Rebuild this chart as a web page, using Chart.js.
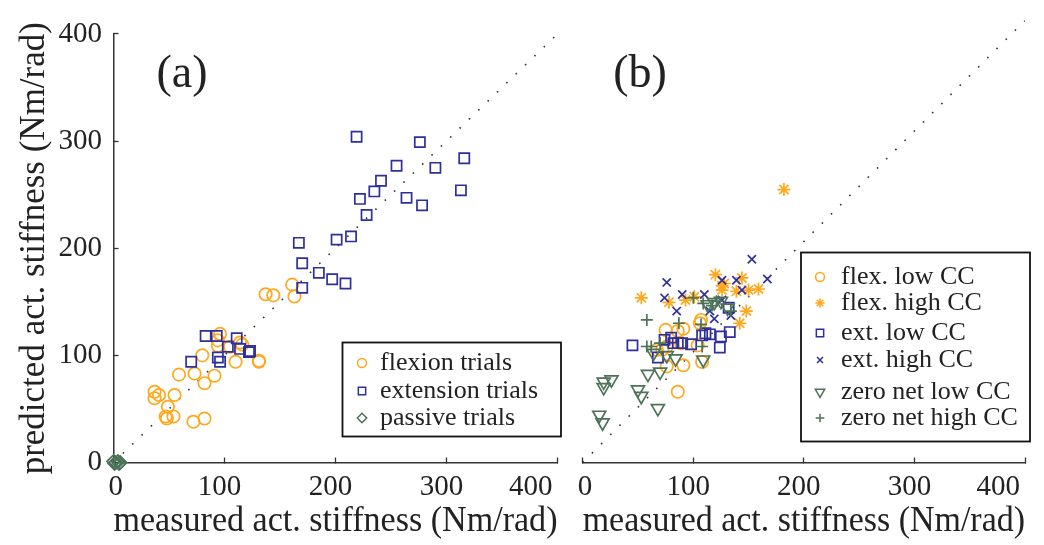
<!DOCTYPE html>
<html>
<head>
<meta charset="utf-8">
<script src="https://cdn.jsdelivr.net/npm/chart.js@4.4.1/dist/chart.umd.min.js"></script>
<style>
  html, body { margin: 0; padding: 0; background: #fff; }
  #wrap { position: relative; width: 1044px; height: 545px; }
  #left { position: absolute; left: 0; top: 0; }
  #right { position: absolute; left: 560px; top: 0; }
</style>
</head>
<body>
<div id="wrap">
  <canvas id="left" width="590" height="545"></canvas>
  <canvas id="right" width="484" height="545"></canvas>
</div>
<script>
// axis ticks shared by both panels
const tickValues = [0, 100, 200, 300, 400];
const diagonal = [0, 400];

// panel (a) : [measured, predicted]
const flexionTrials = [
  [137, 157], [144, 156], [161, 166], [163, 155],
  [96, 120], [94, 114], [94, 109], [105, 108], [114, 112], [116, 110],
  [80, 100], [110, 94], [131, 95], [131, 94],
  [59, 82], [73, 83], [91, 81], [82, 74],
  [37, 66], [41, 63], [37, 60], [55, 63], [49, 52],
  [47, 43], [48, 41], [54, 43], [72, 38], [82, 41]
];
const extensionTrials = [
  [219, 304], [276, 299], [316, 284], [255, 277], [290, 275], [241, 263],
  [235, 253], [222, 246], [313, 254], [264, 247], [278, 240], [228, 231],
  [214, 211], [201, 208], [167, 205], [170, 186], [185, 177], [197, 171],
  [209, 167], [170, 163],
  [83, 118], [93, 118], [111, 116], [70, 94], [94, 98], [96, 94],
  [103, 108], [114, 106], [123, 104], [122, 103]
];
const passiveTrials = [[0, 1], [1, -1], [2, 0], [4, 1], [5, -1], [6, 0]];

// panel (b)
const flexLowCC = [
  [75, 120], [86, 119], [91, 121], [106, 126], [107, 129], [104, 106], [72, 102],
  [76, 105], [91, 88], [108, 91], [76, 87], [86, 64], [67, 102], [89, 108]
];
const flexHighCC = [
  [182, 247], [120, 170], [128, 162], [126, 156], [144, 167], [139, 155], [150, 156],
  [159, 157], [53, 149], [78, 145], [93, 147], [101, 150], [148, 137], [142, 126], [126, 160]
];
const extLowCC = [
  [132, 140], [133, 118], [125, 114], [124, 104], [115, 116], [111, 117], [108, 115],
  [98, 107], [90, 108], [86, 108], [82, 108], [74, 111], [68, 95], [45, 106], [80, 113]
];
const extHighCC = [
  [153, 184], [167, 166], [76, 163], [126, 165], [139, 165], [144, 156], [74, 149],
  [90, 152], [110, 152], [126, 147], [85, 137], [115, 137], [119, 130], [134, 133]
];
const zeroNetLowCC = [
  [19, 73], [26, 75], [19, 68], [59, 80], [70, 82], [50, 66], [53, 60], [68, 49],
  [15, 43], [18, 36], [84, 94], [109, 93], [76, 97], [64, 99],
  [113, 143], [119, 145], [125, 146], [131, 140]
];
const zeroNetHighCC = [
  [58, 129], [87, 126], [107, 125], [108, 105], [62, 105], [58, 105],
  [121, 146], [117, 142], [109, 144], [100, 149], [134, 137], [70, 108]
];

const ORANGE = '#FFA81C';
const BLUE = '#2F2F9C';
const GREEN = '#4C7358';
const INK = '#222';

Chart.defaults.font.family = "'Liberation Serif', 'Times New Roman', serif";
Chart.defaults.color = INK;

const toPts = arr => arr.map(([x, y]) => ({ x, y }));

function markers(label, arr, color, style, radius, rotation, idx) {
  return {
    label: label,
    data: toPts(arr),
    pointStyle: style,
    pointRadius: radius,
    pointRotation: rotation || 0,
    pointBorderColor: color,
    pointBackgroundColor: 'rgba(0,0,0,0)',
    pointBorderWidth: 1.7,
    borderColor: color,
    clip: false,
    order: -idx
  };
}

function diagLine() {
  return {
    type: 'line',
    data: diagonal.map(v => ({ x: v, y: v })),
    borderColor: '#333',
    borderWidth: 1.6,
    borderDash: [1.6, 11.4],
    pointRadius: 0,
    fill: false,
    noLegend: true,
    order: 10
  };
}

function xScale() {
  return {
    type: 'linear', min: 0, max: 400,
    afterBuildTicks: s => { s.ticks = tickValues.map(v => ({ value: v })); },
    ticks: { align: 'inner', labelOffset: -5, padding: 12, color: INK, font: { size: 29 } },
    grid: { drawOnChartArea: false, tickLength: -5, color: '#333', tickColor: '#333', tickWidth: 1.3 },
    border: { display: true, color: '#333', width: 1.5 },
    title: {
      display: true, text: 'measured act. stiffness (Nm/rad)', color: INK,
      font: { size: 35, lineHeight: 1 }, padding: { top: 0, bottom: 6 }
    },
    afterFit: s => { s.height = 82.5; }
  };
}

function yScale(show) {
  return {
    type: 'linear', min: 0, max: 400, display: show,
    afterBuildTicks: s => { s.ticks = tickValues.map(v => ({ value: v })); },
    ticks: { padding: 16.5, color: INK, font: { size: 29 } },
    grid: { drawOnChartArea: false, tickLength: -5, color: '#333', tickColor: '#333', tickWidth: 1.3 },
    border: { display: true, color: '#333', width: 1.5 },
    title: {
      display: true, text: 'predicted act. stiffness (Nm/rad)', color: INK,
      font: { size: 35, lineHeight: 1 }, padding: { top: 17, bottom: 0 }
    },
    afterFit: s => { if (show) s.width = 113.5; }
  };
}

// boxed legend drawn at a fixed place inside the axes
const legendBox = {
  id: 'legendBox',
  afterDraw(chart, args, o) {
    const ctx = chart.ctx;
    ctx.save();
    ctx.fillStyle = '#fff';
    ctx.fillRect(o.box[0], o.box[1], o.box[2], o.box[3]);
    ctx.strokeStyle = '#111';
    ctx.lineWidth = 1.8;
    ctx.strokeRect(o.box[0], o.box[1], o.box[2], o.box[3]);
    const items = chart.data.datasets.filter(d => !d.noLegend);
    items.forEach((d, i) => {
      const y = o.rows[i];
      ctx.strokeStyle = d.pointBorderColor;
      ctx.fillStyle = 'rgba(0,0,0,0)';
      ctx.lineWidth = 1.5;
      Chart.helpers.drawPoint(ctx, {
        pointStyle: d.pointStyle,
        radius: d.pointRadius * 0.72,
        rotation: d.pointRotation,
        borderWidth: 1.5
      }, o.markerX, y);
      ctx.fillStyle = INK;
      ctx.font = "26px 'Liberation Serif', serif";
      ctx.textBaseline = 'middle';
      ctx.textAlign = 'left';
      ctx.fillText(d.label, o.textX, y);
    });
    ctx.restore();
  }
};

const panelLabel = {
  id: 'panelLabel',
  afterDraw(chart, args, o) {
    const ctx = chart.ctx;
    ctx.save();
    ctx.fillStyle = INK;
    ctx.font = "46px 'Liberation Serif', serif";
    ctx.textAlign = 'center';
    ctx.textBaseline = 'middle';
    ctx.fillText(o.text, o.x, o.y);
    ctx.restore();
  }
};

const common = {
  responsive: false,
  animation: false,
  events: []
};

new Chart(document.getElementById('left'), {
  type: 'scatter',
  data: {
    datasets: [
      diagLine(),
      markers('flexion trials', flexionTrials, ORANGE, 'circle', 6.2, 0, 0),
      markers('extension trials', extensionTrials, BLUE, 'rect', 7.2, 0, 1),
      markers('passive trials', passiveTrials, GREEN, 'rectRot', 6.5, 0, 2)
    ]
  },
  options: Object.assign({}, common, {
    layout: { padding: { left: 0, top: 20.5, right: 32.5, bottom: 0 } },
    scales: { x: xScale(), y: yScale(true) },
    plugins: {
      legend: { display: false },
      tooltip: { enabled: false },
      legendBox: { box: [342.5, 342.5, 218.5, 94], markerX: 362, textX: 380, rows: [363, 391, 418] },
      panelLabel: { text: '(a)', x: 182, y: 75 }
    }
  }),
  plugins: [legendBox, panelLabel]
});

new Chart(document.getElementById('right'), {
  type: 'scatter',
  data: {
    datasets: [
      diagLine(),
      markers('flex. low CC', flexLowCC, ORANGE, 'circle', 6.2, 0, 0),
      markers('flex. high CC', flexHighCC, ORANGE, 'star', 6.5, 0, 1),
      markers('ext. low CC', extLowCC, BLUE, 'rect', 7.2, 0, 2),
      markers('ext. high CC', extHighCC, BLUE, 'crossRot', 5.8, 0, 3),
      markers('zero net low CC', zeroNetLowCC, GREEN, 'triangle', 7.5, 180, 4),
      markers('zero net high CC', zeroNetHighCC, GREEN, 'cross', 6, 0, 5)
    ]
  },
  options: Object.assign({}, common, {
    layout: { padding: { left: 22.7, top: 20.5, right: 19, bottom: 0 } },
    scales: { x: xScale(), y: yScale(false) },
    plugins: {
      legend: { display: false },
      tooltip: { enabled: false },
      legendBox: { box: [241, 252.5, 229, 189], markerX: 260, textX: 281, rows: [277, 303, 333, 360, 392, 418] },
      panelLabel: { text: '(b)', x: 80, y: 75 }
    }
  }),
  plugins: [legendBox, panelLabel]
});
</script>
</body>
</html>
